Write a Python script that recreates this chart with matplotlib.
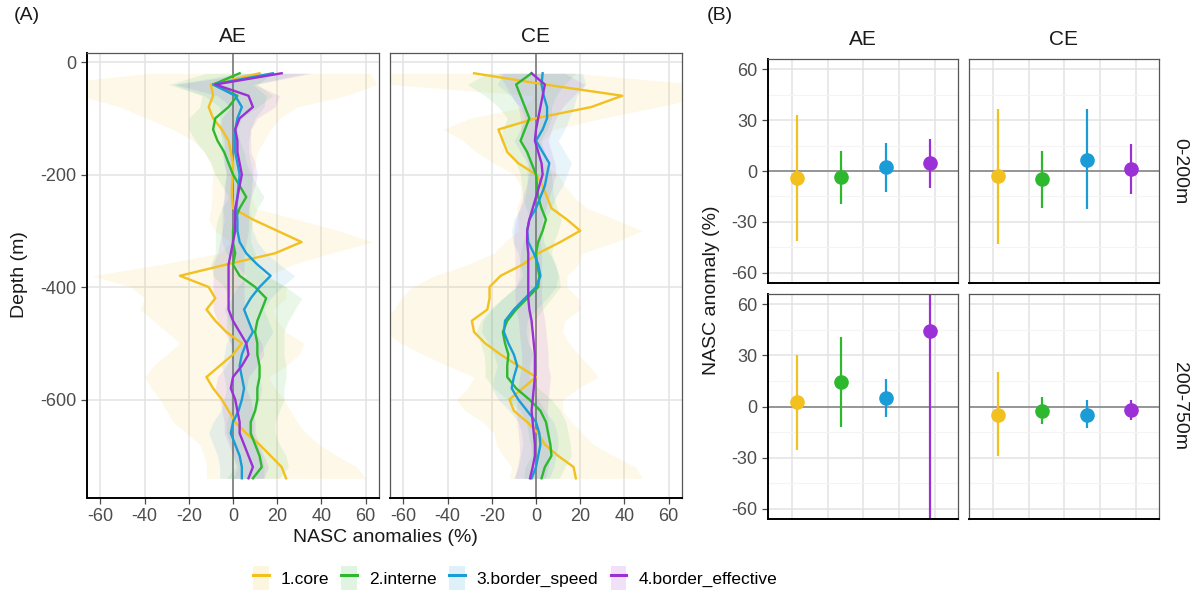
import matplotlib
matplotlib.use('Agg')
import numpy as np
import matplotlib.pyplot as plt
from matplotlib.lines import Line2D
from matplotlib.patches import Patch
from matplotlib.legend_handler import HandlerTuple

plt.rcParams['font.family'] = ['Liberation Sans', 'DejaVu Sans']
plt.rcParams['axes.unicode_minus'] = False

groups = ['1.core', '2.interne', '3.border_speed', '4.border_effective']
colors = ['#F2C01F', '#2EB82E', '#1A9CD6', '#9B30D6']

depth = [-20, -40, -60, -80, -100, -120, -140, -160, -180, -200,
         -220, -240, -260, -280, -300, -320, -340, -360, -380, -400,
         -420, -440, -460, -480, -500, -520, -540, -560, -580, -600,
         -620, -640, -660, -680, -700, -720, -740]

# panel A, AE: mean anomaly per depth bin
ae_core = [12, -10, -9, -11, -9, -5, -2, -1, 0, 0, -0.5, -0.5, 0, 9, 20, 31, 19, -3, -24, -11,
           -8, -12, -8, -3, 4, 0, -6, -12, -9, -5, -2, 1, 6, 12, 17, 22, 24]
ae_interne = [3, -9, 2, -2, -8, -9, -7, -4, -2, 0, 3, 6, 3, 1, 0, 0, 1, 0, 3, 10,
              15, 13, 11, 10, 11, 11, 12, 12, 11, 11, 10, 8, 8, 10, 12, 13, 9]
ae_speed = [18, -9, 1, 4, 2, 1, 1, 1, 2, 3, 2.5, 2, 1.5, 2, 2, 3, 6, 11, 17, 12,
            8, 5, 7, 9, 6, 4, 3, 4, 5, 4, 2.5, 0, -1, 1, 3, 4, 4]
ae_effective = [22, -8, 7, 9, 3, 1, 2, 2, 3, 4, 3, 2, 1, 1, 1, 0, -1, -2, -2, -2,
                -2, -2, 0, 3, 6, 7, 4, 0, -1, 1, 2, 3, 3, 5, 7, 9, 7]

# ribbon half widths
ae_core_ci = [50, 75, 60, 40, 30, 22, 16, 12, 10, 9, 9, 9, 10, 20, 28, 32, 25, 30, 40, 35,
              32, 30, 28, 27, 28, 30, 30, 28, 28, 28, 28, 28, 27, 27, 30, 34, 36]
ae_interne_ci = [15, 20, 16, 13, 12, 11, 10, 9, 8, 8, 8, 8, 8, 8, 8, 8, 9, 10, 12, 14,
                 16, 15, 14, 13, 12, 12, 12, 12, 12, 12, 11, 11, 11, 11, 12, 12, 12]
ae_speed_ci = [15, 18, 14, 10, 8, 7, 6, 6, 6, 6, 6, 6, 6, 6, 7, 8, 9, 10, 11, 10,
               9, 9, 9, 9, 9, 8, 8, 8, 8, 8, 8, 9, 10, 10, 10, 10, 10]
ae_effective_ci = [14, 18, 14, 10, 8, 7, 6, 6, 7, 7, 7, 6, 6, 6, 6, 6, 6, 7, 7, 7,
                   7, 7, 7, 7, 7, 7, 7, 7, 7, 7, 7, 7, 7, 7, 7, 7, 7]

# panel A, CE
ce_core = [-28, 4, 39, 25, 0, -17, -15, -13, -8, 0, 3, 5, 7, 14, 20, 11, 1, -6, -16, -21,
           -21, -22, -29, -28, -23, -16, -8, 0, -6, -12, -10, -4, 1, 4, 10, 17, 18]
ce_interne = [-2, -9, -7, -5, -3, -5, -7, -4, -2, 0, 0.5, 1, 2.5, 4.5, 3, 1, 0, 0.5, 1.5, 1,
              -4, -9, -13, -15, -14, -12.5, -13, -13, -9, -3, 2, 4.5, 5.5, 6.5, 7, 4, 2.5]
ce_speed = [3, 2.5, 3.5, 5, 5, 3, 0, 3, 6, 5, 4, 2, 0, -3, -4, -3.5, -1, 1, 2, 0,
            -5, -10, -14, -14.5, -12.5, -10, -8.5, -10, -11, -8, -4, 0, 1.5, 2, 1, 0, -2]
ce_effective = [-2, 4, 3, 2, 1, 0, -0.5, 1, 2.5, 3, 1.5, 0, -1.5, -3, -4, -4, -3.5, -3.5, -3.5, -3.5,
                -3.5, -3, -2, -1.5, -1, -0.5, -0.5, -0.5, -1, -1.5, -2, -1.5, -1, -0.5, -0.5, -1.5, -2.7]

ce_core_ci = [45, 70, 40, 30, 30, 25, 18, 14, 11, 10, 10, 12, 16, 22, 28, 25, 20, 25, 30, 35,
              40, 42, 42, 40, 38, 35, 32, 28, 25, 24, 22, 20, 20, 22, 25, 28, 30]
ce_interne_ci = [20, 22, 16, 12, 10, 10, 9, 8, 7, 7, 7, 7, 7, 7, 7, 7, 7, 8, 9, 10,
                 11, 12, 12, 12, 11, 11, 10, 10, 10, 10, 9, 9, 9, 9, 9, 9, 8]
ce_speed_ci = [18, 20, 15, 12, 10, 10, 10, 10, 10, 9, 8, 7, 7, 7, 7, 7, 7, 8, 8, 9,
               10, 10, 10, 10, 9, 9, 9, 9, 9, 9, 8, 8, 8, 8, 8, 8, 8]
ce_effective_ci = [15, 18, 14, 10, 8, 7, 6, 6, 6, 6, 6, 6, 6, 6, 6, 6, 6, 6, 6, 6,
                   6, 6, 6, 6, 6, 6, 6, 7, 7, 7, 7, 7, 7, 7, 7, 7, 7]

# panel B: mean, lower, upper for each group
ae_shallow_mean = [-4.3, -3.7, 2.2, 4.5]
ae_shallow_lo = [-41, -19.4, -12.2, -9.8]
ae_shallow_hi = [33, 12, 16.3, 18.6]
ce_shallow_mean = [-2.9, -4.9, 6.5, 1.0]
ce_shallow_lo = [-43, -22, -22.5, -13.5]
ce_shallow_hi = [36.5, 12, 36.3, 15.7]
ae_deep_mean = [2.6, 14.3, 4.9, 44.5]
ae_deep_lo = [-25.4, -12.1, -6.2, -120]
ae_deep_hi = [30.1, 40.7, 16, 210]
ce_deep_mean = [-4.7, -2.7, -4.7, -2.3]
ce_deep_lo = [-29.3, -10.3, -12.7, -8.2]
ce_deep_hi = [20.5, 5.5, 3.9, 4.1]

W, H = 1200, 599
fig = plt.figure(figsize=(12, 5.99), dpi=100)


def box(l, t, r, b):
    return [l / W, 1 - b / H, (r - l) / W, (b - t) / H]


grid_c = '#E3E3E3'
border_c = '#555555'
tick_c = '#4D4D4D'
rib_alpha = 0.10


def style(ax, left_axis, bottom_axis):
    for s in ax.spines.values():
        s.set_color(border_c)
        s.set_linewidth(0.9)
    if left_axis:
        ax.spines['left'].set_color('black')
        ax.spines['left'].set_linewidth(1.4)
    if bottom_axis:
        ax.spines['bottom'].set_color('black')
        ax.spines['bottom'].set_linewidth(1.4)
    ax.tick_params(colors=tick_c, labelcolor=tick_c, labelsize=13, length=4, width=0.9)
    ax.set_axisbelow(True)


# ---- panel A
a_sets = [
    ('AE', [ae_core, ae_interne, ae_speed, ae_effective],
     [ae_core_ci, ae_interne_ci, ae_speed_ci, ae_effective_ci], 87, 379),
    ('CE', [ce_core, ce_interne, ce_speed, ce_effective],
     [ce_core_ci, ce_interne_ci, ce_speed_ci, ce_effective_ci], 390, 682),
]
dep = np.array(depth)
for i, (name, means, cis, l, r) in enumerate(a_sets):
    ax = fig.add_axes(box(l, 53, r, 498))
    style(ax, i == 0, True)
    for xv in [-60, -40, -20, 20, 40, 60]:
        ax.axvline(xv, color=grid_c, lw=1.1, zorder=0)
    for yv in [0, -200, -400, -600]:
        ax.axhline(yv, color=grid_c, lw=1.1, zorder=0)
    ax.axvline(0, color='#808080', lw=1.3, zorder=1)
    for m, c, col in zip(means, cis, colors):
        m = np.array(m, dtype=float)
        c = np.array(c, dtype=float)
        ax.fill_betweenx(dep, m - c, m + c, color=col, alpha=rib_alpha, lw=0, zorder=2)
    for m, col in zip(means, colors):
        ax.plot(m, dep, color=col, lw=1.7, zorder=3)
    ax.set_xlim(-66, 66)
    ax.set_ylim(-775, 16)
    ax.set_xticks([-60, -40, -20, 0, 20, 40, 60])
    ax.set_yticks([0, -200, -400, -600])
    if i > 0:
        ax.tick_params(left=False, labelleft=False)
    ax.set_title(name, fontsize=15, pad=8, color='#1A1A1A')

fig.text(20 / W, 1 - 275 / H, 'Depth (m)', rotation=90, fontsize=14,
         ha='center', va='center', color='#1A1A1A')
fig.text(385 / W, 1 - 537 / H, 'NASC anomalies (%)', fontsize=14,
         ha='center', va='center', color='#1A1A1A')

# ---- panel B
xpos = [1, 2, 3, 4]
vgrid = [0.89, 1.70, 2.49, 3.31, 4.12]
b_sets = [
    (ae_shallow_mean, ae_shallow_lo, ae_shallow_hi, 768, 958, 59, 283, True),
    (ce_shallow_mean, ce_shallow_lo, ce_shallow_hi, 969, 1159, 59, 283, False),
    (ae_deep_mean, ae_deep_lo, ae_deep_hi, 768, 958, 294, 519, True),
    (ce_deep_mean, ce_deep_lo, ce_deep_hi, 969, 1159, 294, 519, False),
]
b_axes = []
for mean, lo, hi, l, r, t, b, left in b_sets:
    ax = fig.add_axes(box(l, t, r, b))
    style(ax, left, True)
    for xv in vgrid:
        ax.axvline(xv, color=grid_c, lw=1.1, zorder=0)
    for yv in [-60, -30, 30, 60]:
        ax.axhline(yv, color=grid_c, lw=1.1, zorder=0)
    for yv in [-45, -15, 15, 45]:
        ax.axhline(yv, color='#F4F4F4', lw=0.8, zorder=0)
    ax.axhline(0, color='#8C8C8C', lw=1.3, zorder=1)
    for x, m, lo_, hi_, col in zip(xpos, mean, lo, hi, colors):
        ax.vlines(x, lo_, hi_, color=col, lw=1.6, zorder=2)
        ax.plot(x, m, 'o', color=col, ms=9.5, zorder=3)
    ax.set_xlim(0.35, 4.63)
    ax.set_ylim(-66, 66)
    ax.set_yticks([-60, -30, 0, 30, 60])
    ax.set_xticks([])
    if not left:
        ax.tick_params(left=False, labelleft=False)
    b_axes.append(ax)

b_axes[0].set_title('AE', fontsize=15, pad=10, color='#1A1A1A')
b_axes[1].set_title('CE', fontsize=15, pad=10, color='#1A1A1A')
fig.text(1180 / W, 1 - 171 / H, '0-200m', rotation=-90, fontsize=14,
         ha='center', va='center', color='#1A1A1A')
fig.text(1180 / W, 1 - 406 / H, '200-750m', rotation=-90, fontsize=14,
         ha='center', va='center', color='#1A1A1A')
fig.text(712 / W, 1 - 290 / H, 'NASC anomaly (%)', rotation=90, fontsize=14,
         ha='center', va='center', color='#1A1A1A')

fig.text(14 / W, 1 - 16 / H, '(A)', fontsize=14, ha='left', va='center', color='#1A1A1A')
fig.text(707 / W, 1 - 16 / H, '(B)', fontsize=14, ha='left', va='center', color='#1A1A1A')

# legend
handles = []
for col in colors:
    handles.append((Patch(facecolor=col, alpha=0.14, edgecolor='none'),
                    Line2D([0], [0], color=col, lw=2.2)))
fig.legend(handles, groups, handler_map={tuple: HandlerTuple(ndivide=1)},
           loc='center', bbox_to_anchor=(515 / W, 1 - 578 / H), ncol=4,
           frameon=False, fontsize=12.5, handlelength=0.9, handleheight=1.8,
           handletextpad=0.7, columnspacing=0.7)

fig.savefig('out.png', dpi=100)
